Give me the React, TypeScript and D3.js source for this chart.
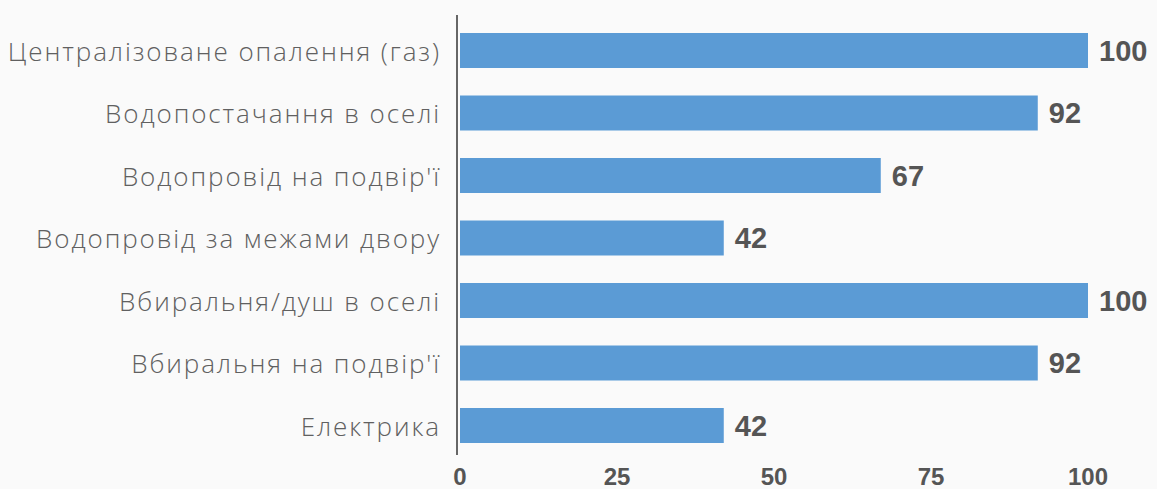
import * as d3 from "d3";

const categories = [
  "Централізоване опалення (газ)",
  "Водопостачання в оселі",
  "Водопровід на подвір'ї",
  "Водопровід за межами двору",
  "Вбиральня/душ в оселі",
  "Вбиральня на подвір'ї",
  "Електрика",
];
const values = [100, 92, 67, 42, 100, 92, 42];
const ticks = [0, 25, 50, 75, 100];

const width = 1157;
const height = 489;
const marginLeft = 460;
const marginRight = 69;

const App = () => {
  const rows = categories.map((c, i) => ({ cat: c, value: values[i] }));

  const x = d3
    .scaleLinear()
    .domain([0, 100])
    .range([marginLeft, width - marginRight]);

  const y = d3
    .scaleBand()
    .domain(categories)
    .range([19.25, 456.75])
    .paddingInner(0.44)
    .paddingOuter(0.22);

  return (
    <svg
      width={width}
      height={height}
      style={{ position: "absolute", left: 0, top: 0, background: "#fafafa" }}
    >
      <g className="bars">
        {rows.map((d) => (
          <rect
            key={d.cat}
            x={x(0)}
            y={y(d.cat)}
            width={x(d.value) - x(0)}
            height={y.bandwidth()}
            fill="#5b9bd5"
          />
        ))}
      </g>
      <line x1={457} x2={457} y1={15} y2={455} stroke="#666" strokeWidth={2} />
      <g className="cat-labels">
        {rows.map((d) => (
          <text
            key={d.cat}
            x={441}
            y={y(d.cat)! + y.bandwidth() / 2}
            textAnchor="end"
            dominantBaseline="central"
            fontFamily="Open Sans"
            fontWeight={300}
            fontSize={26}
            letterSpacing={1.9}
            fill="#606060"
          >
            {d.cat}
          </text>
        ))}
      </g>
      <g className="value-labels">
        {rows.map((d) => (
          <text
            key={d.cat}
            x={x(d.value) + 11}
            y={y(d.cat)! + y.bandwidth() / 2}
            dominantBaseline="central"
            fontFamily="Liberation Sans"
            fontWeight={700}
            fontSize={29}
            fill="#555"
          >
            {d.value}
          </text>
        ))}
      </g>
      <g className="x-axis">
        {ticks.map((t) => (
          <text
            key={t}
            x={x(t)}
            y={485}
            textAnchor="middle"
            fontFamily="Liberation Sans"
            fontWeight={700}
            fontSize={24}
            fill="#555"
          >
            {t}
          </text>
        ))}
      </g>
    </svg>
  );
};

export default App;
